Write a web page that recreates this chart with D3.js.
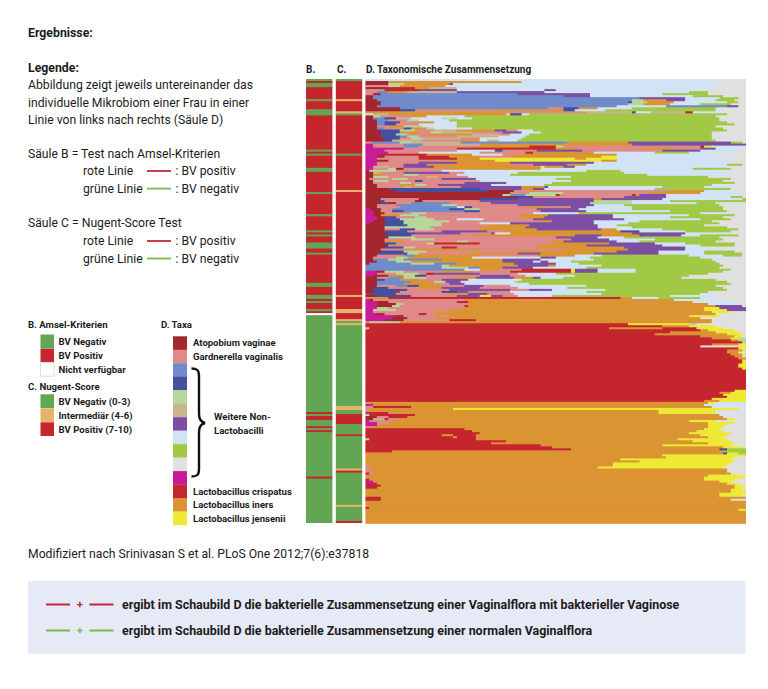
<!DOCTYPE html>
<html><head><meta charset="utf-8">
<script src="https://cdn.jsdelivr.net/npm/d3@7"></script>
<style>html,body{margin:0;padding:0;background:#fff}svg{display:block}text{font-family:Roboto,sans-serif;fill:#1c1c1c}</style>
</head><body><svg id="c" width="768" height="689"></svg>
<script>
// Taxa (stack codes, names, colours)
const taxaCodes=["a","g","b","n","l","t","p","s","v","x","m","c","i","j"];
const taxaColors=["#a3282e","#df8a88","#6f8bcb","#45509f","#b8d699","#c9b48d","#7c4fa3","#d2e3f5","#a2c945","#e0e0e0","#c91b97","#c5272f","#db9433","#eee935"];
const taxaNames={a:"Atopobium vaginae",g:"Gardnerella vaginalis",c:"Lactobacillus crispatus",i:"Lactobacillus iners",j:"Lactobacillus jensenii"};
// B and C columns: runs of [status, number of women]
const statusColors={G:"#62a552",R:"#c5272f",I:"#e6b36a",N:"#ffffff"};
const amselRuns=[["G",1],["R",1],["G",2],["R",6],["G",1],["R",4],["G",3],["R",17],["G",1],["R",1],["G",1],["R",6],["G",2],["R",10],["G",1],["R",10],["G",1],["R",7],["G",1],["R",1],["G",1],["R",3],["G",3],["R",2],["G",1],["R",14],["G",2],["R",4],["G",2],["R",1],["G",1],["R",3],["G",1],["R",1],["N",1],["G",48],["R",1],["G",1],["R",2],["G",3],["R",1],["G",1],["R",1],["G",22],["R",1],["G",22]];
const nugentRuns=[["G",1],["R",9],["I",1],["R",5],["I",1],["G",1],["R",19],["G",1],["R",17],["I",1],["R",51],["I",1],["R",6],["I",2],["R",3],["I",1],["G",1],["I",1],["G",40],["I",2],["G",2],["R",5],["G",5],["R",1],["G",16],["I",1],["R",1],["G",16],["I",1],["G",7],["R",1]];
// D column: one string per woman; each token = taxon code + cumulative percent at its end; "n*" repeats a row
const sampleRows=[
"s91 x100","a6 i41 s92 x100","a6 l10 i22 p23 s92 x100","g6 l9 i21 s90 x100","a5 c13 i17 t24 s91 x100",
"g5 c14 p24 s47 p50 s88 x100","g3 b6 i11 t24 p47 s85 v90 x100","g2 a4 b40 p47 p59 s78 v90 x100","a2 b52 p59 s86 v94 x100","a2 b72 p84 s93 v98 x100",
"a3 b70 l73 i79 p84 s92 v97 x100","a4 b69 n70 l74 i81 s95 v98 x100","a4 b69 l73 i80 s88 v96 x100","a3 b66 s79 b95 p98 x100","a9 b48 g52 n56 i61 s70 v92 x100",
"a9 n13 g34 i52 n55 s63 v92 x100","i35 g58 t70 n71 s75 t84 c86 s93 x100","s2 t6 i37 j38 n41 s43 v95 x100","a2 l4 g12 i16 s26 v92 x100","a2 b5 n8 t12 s20 l24 s28 v93 x100",
"a3 b6 g11 l14 s22 v93 x100","a3 b5 n9 g14 i18 s24 v95 x100","a3 b5 n8 g14 s24 v97 x100","a3 g6 i10 l15 s18 x20 s24 v92 x100","a3 b5 g10 n12 i16 l18 s28 v94 x100",
"a4 n9 l13 g18 t24 i34 p37 g40 s44 v95 x100","a4 n9 i14 g17 l20 t28 g36 p41 s46 v91 x100","a4 n8 l11 g16 i28 t35 g38 s43 v91 x100","a4 n9 b11 l14 g24 t35 s42 v91 x100","a5 n9 g12 l15 t25 g30 s35 s41 v91 x100",
"a5 n7 t15 g25 i30 s32 t35 s40 v92 x100","g2 b9 l12 t25 b53 i69 p96 v99 x100","m2 g10 b15 t30 i52 i70 p100","m2 g10 b14 g30 i43 c50 l52 g88 c89 j91 s99 x100","m10 g24 c50 i55 g73 i81 g88 p92 s99 x100",
"m5 g24 s34 n36 g45 p57 g78 p88 s99 x100","m6 g14 s30 g42 c44 i60 s76 v85 s96 x100","m4 c16 i28 s36 g40 i66 s90 x100","m3 a5 g14 c22 i30 g38 i62 j66 s92 x100","m3 g14 c24 i30 j55 i58 j66 s97 x100",
"m3 a6 g22 i34 j62 i66 s96 x100","m3 g14 p24 i38 p60 s94 x100","m3 g10 p16 i38 g44 p53 i58 s95 v99 x100","m2 t6 g10 p18 i46 j47 i52 p55 s96 x100","m2 g6 l8 a10 g22 i40 i46 s86 v96 x100",
"a1 l8 g20 s30 s58 v67 s95 x100","a2 t4 g10 p22 g26 s40 v68 s96 x100","a2 i5 g10 l14 g24 s38 v74 s96 x100","a2 l6 g16 t19 g27 s54 v90 x100","a1 g7 l11 g20 p29 s50 v96 x100",
"a2 l6 g13 n15 g30 s54 v94 x100","a2 g9 l12 g26 p37 s49 v97 x100","a3 g9 i13 l16 g19 p33 s47 v91 s98 x100","a3 g10 t12 g25 p41 i47 p48 s78 v89 s94 x100","a6 n30 p41 i44 p47 s76 v96 x100",
"a8 n32 a39 g43 i46 g80 i89 s98 x100","a38 g43 l52 g75 i88 s99 x100","a36 l38 b42 l50 c51 g70 c71 i72 p79 s97 x100","a40 n44 g68 p79 s96 v99 x100","a4 g14 a30 n40 p60 i62 p78 s99 v100",
"a4 n5 g13 a15 g30 p60 l70 s80 v100","a4 n6 a8 g12 b22 g33 p59 l70 s87 v92 x100","a3 g8 b20 l24 g40 p60 s68 v93 x100","a3 g9 b24 s26 n28 g42 i47 g54 p58 s70 v94 x100","m1 a4 g7 b22 n26 l30 g45 p56 s70 v94 x100",
"m2 a4 g7 n10 b26 n30 g46 p58 s80 v95 x100","m2 a5 g12 l16 g44 s56 v88 s97 x100","m2 a4 i9 l14 g40 i48 p65 s85 v97 x100","m3 a5 n8 g13 l16 g41 i47 p65 s80 v94 x100","m3 a5 n9 l18 g24 s31 g44 p54 p68 s88 v96 x100",
"m2 a5 n10 l22 g31 g46 i49 p60 s72 v91 x100","m1 a5 n10 l20 g30 s38 p60 s69 v93 x100","a5 n11 l20 g32 i43 p61 s66 v89 x100","a5 l17 g30 i42 p61 s70 v95 x100","a5 g9 n13 l18 g30 i45 p62 i66 s78 v98 x100",
"a5 n11 g20 p32 g36 i67 n72 s84 v96 x100","a6 n13 p25 g33 p34 s38 i43 i70 p84 s95 x100","a5 n12 g29 i55 p62 i72 n73 p83 s88 v98 x100","a6 l13 g30 g50 p61 s68 v93 x100","a5 g12 l18 g30 g54 p64 s76 v94 x100",
"a5 i10 g24 l27 g48 i52 p66 s72 v92 x100","a5 n8 g16 l18 c30 g50 i64 p76 s84 v97 x100","a6 g28 g46 i58 p78 s88 v97 x100","a5 n10 l13 g20 c24 g45 i68 p84 s90 x100","a4 g12 i30 g52 i69 p84 s97 x100",
"a4 n10 l16 g30 g40 i66 p77 s89 v97 x100","a3 n11 l14 g28 i40 p46 i60 p77 s89 v99 x100","a3 g10 b13 i30 g45 i55 s62 v85 s94 v99 x100","a2 g8 l11 i28 s36 s46 p50 s59 v88 s97 x100","a2 b6 l10 b20 i36 p46 s60 v91 x100",
"a3 b8 l12 i36 p44 s46 p48 s54 v92 x100","a1 b12 l18 b24 i39 p50 s56 v93 x100","b20 l22 i40 p48 i50 s62 v94 x100","b20 l27 b30 i36 p44 s58 v93 x100","b26 s30 i35 g41 c54 j55 p61 s71 v96 x100",
"m3 a5 l10 g20 i28 g38 c54 j55 p61 s71 v94 x100","m3 g8 l14 g16 a18 p30 g40 s50 v90 x100","m2 a6 i10 l13 n16 g30 p38 g42 s55 v85 x100","a3 g6 b10 l16 g24 i29 p39 i44 p46 s52 v83 x100","a3 n5 b9 i14 g20 p27 s41 v92 x100",
"a3 b12 i18 l21 p25 s39 l40 v95 x100","a3 b10 i17 g22 p26 s43 v96 x100","a3 g8 b11 n14 i20 g26 p31 g38 s58 v92 x100","a2 n6 g14 i20 p30 g40 s53 v94 x100","a2 n11 g22 p38 g43 p49 s63 v95 x100",
"a2 n8 c9 g20 n24 p27 g38 s58 v90 x100","m1 n8 g22 i27 p32 g39 s62 v88 x100","a3 n12 g24 p30 j33 p36 g40 s49 v80 s92 x100","i6 c67 i70 s77 v88 s92 x100","m1 a2 g26 i81 s92 x100",
"m3 a6 g24 c27 i86 s97 x100","m3 a8 l10 g27 i90 s97 x100","m3 a7 l9 g26 c27 i92 p99 x100","m3 l6 g26 i89 j93 p100","m2 l8 g22 i89 j95 p100",
"m2 g10 g18 i91 j96 x100","m3 a5 g14 c16 g18 i92 x100","m8 a10 g22 i85 j93 x100","m7 a11 g18 i88 x100","m5 a10 g22 c29 i91 x100","g1 l9 i91 x100",
// crispatus block
"c69 j85 l87 x100","c78 i85 j92 x100","l1 c64 i78 c87 j94 x100","c88 i90 j97 x100","c80 i92 j98 x100","c76 i95 j99 x100","c88 i97 j99 x100","c91 i96 j98 l100","c96 i98 l100","c99 l100",
"c91 i98 j100","c88 x98 j100","c98 j99 x100","c95 i99 j100","c95 i98 x100","c96 i99 j100","c97 i99 x100","c98 i100","2*c99 j100","2*c98 j100","c99 j100","10*c100",
"c97 j100","c93 i96 j100","c94 j100","c95 j100","c91 j100","c89 i93 j100",
// iners with pink tips
"g1 i90 j92 s100","m2 i89 s100","g2 c12 i91 s100","g1 i23 j98 x100","i77 j92 x100","m1 c6 g8 i77 j92 s100","l1 c13 i93 x100","a3 g6 c11 i94 x100","a2 t5 c6 g8 i95 j97 x100","m1 g7 i85 j92 x100","m3 g6 i90 j97 x100","m3 i90 j95 x100","g2 i90 j94 x100",
// second crispatus wedge
"c26 i89 j93 x100","c28 i87 j94 x100","c30 i85 j96 x100","c20 i23 c29 i88 j95 x100","c23 i24 c29 i90 j94 x100","l1 c29 i82 j95 x100","c37 i86 j96 x100","c33 i90 j97 x100","c46 i78 j96 x100","c49 i94 j99 x100","c54 i93 n95 v100","c7 i94 v100",
// iners
"i94 n95 j98 v100","i78 j100","i79 j97 x100","i67 j96 x100","i72 j97 x100","i65 j96 x100","g1 i65 j95 x100","g1 i61 j94 x100","g2 i95 x100","g1 i95 x100","c1 g2 i96 x100","i90 j99 x100","i89 j100","m1 i89 j97 x100","c1 m2 i93 j96 x100","m2 c3 i95 j98 x100","c4 i97 j100","c3 i97 j99 x100","i96 j99 x100","i96 j100","i93 j100","i93 j99 x100","c4 i100","c4 i96 x100","3*i100","c1 i100","i98 j100","6*i100"
];
// Texts
const headerLabels=[["B.",306],["C.",337],["D. Taxonomische Zusammensetzung",366]];
const plainLines=[["Abbildung zeigt jeweils untereinander das",28,85],["individuelle Mikrobiom einer Frau in einer",28,102.5],["Linie von links nach rechts (Säule D)",28,120],["Säule B = Test nach Amsel-Kriterien",28,154],["rote Linie",83,171],[": BV positiv",175.5,171],["grüne Linie",83,188.6],[": BV negativ",175.5,188.6],["Säule C = Nugent-Score Test",28,223],["rote Linie",83,241],[": BV positiv",175.5,241],["grüne Linie",83,258.5],[": BV negativ",175.5,258.5]];
const keyLines=[["#c5283a",171],["#79b84a",188.6],["#c5283a",241],["#79b84a",258.5]];
const amselKey=[["G","BV Negativ"],["R","BV Positiv"],["N","Nicht verfügbar"]];
const nugentKey=[["G","BV Negativ (0-3)"],["I","Intermediär (4-6)"],["R","BV Positiv (7-10)"]];
const boxLines=[["ergibt im Schaubild D die bakterielle Zusammensetzung einer Vaginalflora mit bakterieller Vaginose","#c5283a",604.5],["ergibt im Schaubild D die bakterielle Zusammensetzung einer normalen Vaginalflora","#79b84a",630.5]];

const svg=d3.select("#c");
const color=d3.scaleOrdinal(taxaCodes,taxaColors);
const status=k=>statusColors[k];
const rows=sampleRows.flatMap(r=>{const m=r.match(/^(\d+)\*(.*)$/);return m?d3.range(+m[1]).map(()=>m[2]):[r];})
 .map(r=>{let p=0;return r.split(" ").map(t=>{const e=+t.slice(1),o={k:t[0],x0:p,x1:e};p=e;return o;});});
const x=d3.scaleLinear([0,100],[365.5,746]);
const y=d3.scaleBand(d3.range(220),[79,523]);
const defs=svg.append("defs");
defs.append("filter").attr("id","soft").attr("x","-2%").attr("y","-2%").attr("width","104%").attr("height","104%").append("feGaussianBlur").attr("stdDeviation",0.4);
const chart=svg.append("g").attr("filter","url(#soft)");
chart.append("g").selectAll("g").data(rows).join("g").attr("transform",(d,i)=>`translate(0,${y(i)})`)
 .selectAll("rect").data(d=>d).join("rect").attr("x",d=>x(d.x0)).attr("width",d=>x(d.x1)-x(d.x0)+(d.x1<100?0.5:0)).attr("height",(d)=>y.bandwidth()+0.8).attr("fill",d=>color(d.k));
function column(runs,x0,w){let p=0;chart.append("g").selectAll("rect").data(runs.map(([s,n])=>{const o={s,i:p,n};p+=n;return o;})).join("rect")
 .attr("x",x0).attr("width",w).attr("y",d=>y(d.i)).attr("height",d=>y.step()*d.n+(d.i+d.n<220?0.6:0)).attr("fill",d=>status(d.s));}
column(amselRuns,306,26.4);column(nugentRuns,335.8,26.4);

const txt=(t,xx,yy,size,w)=>svg.append("text").text(t).attr("x",xx).attr("y",yy).attr("dy","0.36em").attr("font-size",size).attr("font-weight",w||400);
txt("Ergebnisse:",28,32.5,12.3,700);txt("Legende:",28,67.5,12.3,700);
plainLines.forEach(d=>txt(d[0],d[1],d[2],12.2));
keyLines.forEach(d=>svg.append("line").attr("x1",147).attr("x2",171).attr("y1",d[1]).attr("y2",d[1]).attr("stroke",d[0]).attr("stroke-width",1.8));
headerLabels.forEach(d=>txt(d[0],d[1],69,10,700));
txt("B. Amsel-Kriterien",28,324.5,9.6,700);txt("C. Nugent-Score",28,386.5,9.6,700);txt("D. Taxa",161,324.5,9.6,700);
function key(items,y0){items.forEach((d,i)=>{svg.append("rect").attr("x",40.5).attr("y",y0+i*14).attr("width",13.5).attr("height",13.7).attr("fill",status(d[0])).attr("stroke",d[0]=="N"?"#ddd":"none");txt(d[1],58.5,y0+6.8+i*14.2,9.6,700);});}
key(amselKey,334.5);key(nugentKey,394.3);
const taxY=d3.scaleBand(taxaCodes,[336.3,525]);
taxaCodes.forEach(k=>{svg.append("rect").attr("x",173).attr("y",taxY(k)).attr("width",14).attr("height",taxY.bandwidth()+0.2).attr("fill",color(k));
 if(taxaNames[k])txt(taxaNames[k],193,taxY(k)+taxY.bandwidth()/2,9.5,700);});
txt("Weitere Non-",214,416.5,9.6,700);txt("Lactobacilli",214,430.5,9.6,700);
svg.append("path").attr("d","M191.5,368.5 C197,368.5 199,370 199,376 L199,414 C199,419 201,422 205,423 C201,424 199,427 199,432 L199,469 C199,475 197,476.5 191.5,476.5").attr("fill","none").attr("stroke","#111").attr("stroke-width",2.4);
txt("Modifiziert nach Srinivasan S et al. PLoS One 2012;7(6):e37818",28,554,12.2);
svg.append("rect").attr("x",28).attr("y",581).attr("width",717.5).attr("height",73).attr("fill","#e6eaf6");
boxLines.forEach(d=>{svg.append("line").attr("x1",46).attr("x2",70).attr("y1",d[2]).attr("y2",d[2]).attr("stroke",d[1]).attr("stroke-width",2);
 svg.append("line").attr("x1",89.5).attr("x2",113.5).attr("y1",d[2]).attr("y2",d[2]).attr("stroke",d[1]).attr("stroke-width",2);
 svg.append("text").text("+").attr("x",80).attr("y",d[2]).attr("dy","0.34em").attr("text-anchor","middle").attr("font-size",11.5).attr("font-weight",700).style("fill",d[1]);
 txt(d[0],122,d[2],12.45,700);});
</script></body></html>
